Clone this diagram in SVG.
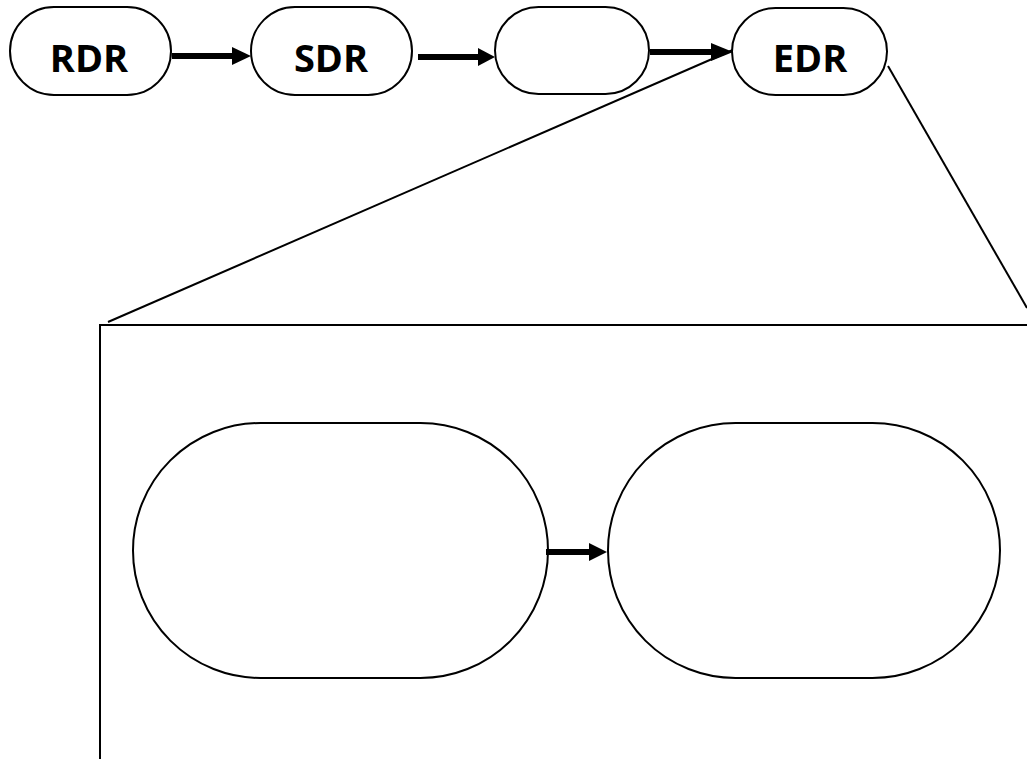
<svg xmlns="http://www.w3.org/2000/svg" width="1027" height="759" viewBox="0 0 1027 759">
<style>
.node{fill:#fff;stroke:#000;stroke-width:2}
.lbl{font-family:"Open Sans","Liberation Sans",sans-serif;font-weight:700;font-size:38px;fill:#000;text-anchor:middle}
.conn{stroke:#000;stroke-width:6;fill:none}
.head{fill:#000;stroke:none}
.zoom{stroke:#000;stroke-width:2;fill:none}
</style>
<rect width="1027" height="759" fill="#fff"/>
<g id="zoom-frame">
<path class="zoom" d="M100,759 L100,325 L1027,325"/>
<line class="zoom" x1="735" y1="49" x2="108" y2="322"/>
<line class="zoom" x1="888" y1="66" x2="1027" y2="308"/>
</g>
<g id="node-rdr"><rect class="node" x="10" y="7" width="161" height="88" rx="44"/><text class="lbl" x="89" y="72">RDR</text></g>
<g id="node-sdr"><rect class="node" x="251" y="7" width="161" height="88" rx="44"/><text class="lbl" x="331" y="72">SDR</text></g>
<g id="node-mid"><rect class="node" x="495" y="7" width="154" height="87" rx="43.5"/></g>
<g id="node-edr"><rect class="node" x="732" y="8" width="155" height="87" rx="43.5"/><text class="lbl" x="810" y="72">EDR</text></g>
<g id="node-big1"><rect class="node" x="133" y="423" width="415" height="255" rx="127.5"/></g>
<g id="node-big2"><rect class="node" x="608" y="423" width="392" height="255" rx="127.5"/></g>
<g id="connectors">
<line class="conn" x1="172" y1="56" x2="234" y2="56"/>
<path class="head" d="M232,47 L251,56 L232,65 Z"/>
<line class="conn" x1="418" y1="57" x2="480" y2="57"/>
<path class="head" d="M478,48 L495,57 L478,66 Z"/>
<line class="conn" x1="650" y1="52" x2="713" y2="52"/>
<path class="head" d="M711,43 L733,52 L711,61 Z"/>
<line class="conn" x1="546" y1="552" x2="591" y2="552"/>
<path class="head" d="M589,543 L607,552 L589,561 Z"/>
</g>
</svg>
